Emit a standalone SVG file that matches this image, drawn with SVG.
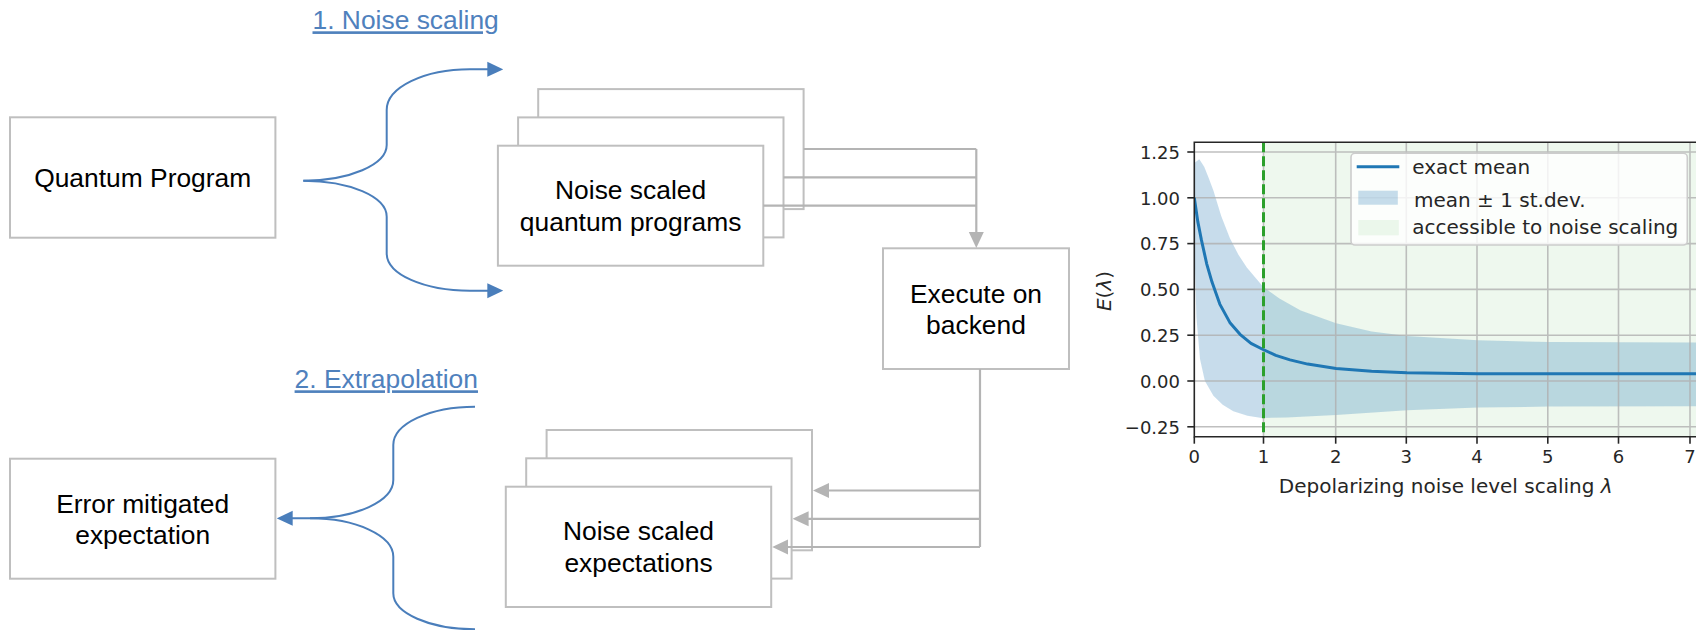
<svg xmlns="http://www.w3.org/2000/svg" width="1696" height="630" viewBox="0 0 1696 630">
<defs>
<marker id="ahBlue" viewBox="0 0 16 16" refX="1" refY="8" markerWidth="16" markerHeight="16" markerUnits="userSpaceOnUse" orient="auto"><path d="M0,0.5 L16,8 L0,15.5 Z" fill="#4a7ebb"/></marker>
<marker id="ahGray" viewBox="0 0 16 16" refX="1" refY="8" markerWidth="16" markerHeight="16" markerUnits="userSpaceOnUse" orient="auto"><path d="M0,0.5 L16,8 L0,15.5 Z" fill="#b4b4b4"/></marker>
<clipPath id="axclip"><rect x="1194.3" y="142.3" width="503" height="294.4"/></clipPath>
</defs>
<style>
.box{fill:#ffffff;stroke:#bfbfbf;stroke-width:2}
.lbl{font-family:"Liberation Sans",Arial,sans-serif;font-size:26.4px;fill:#000000;text-anchor:middle}
.ttl{font-family:"Liberation Sans",Arial,sans-serif;font-size:26.4px;fill:#4f81bd;text-decoration:underline}
.brace{fill:none;stroke:#4a7ebb;stroke-width:2}
.conn{fill:none;stroke:#b4b4b4;stroke-width:2.2}
.grid{stroke:#b0b0b0;stroke-width:1.6;opacity:0.8}
.tick{stroke:#262626;stroke-width:1.6}
.tl{font-family:"DejaVu Sans",sans-serif;font-size:18px;fill:#262626}
.lg{font-family:"DejaVu Sans",sans-serif;font-size:20px;fill:#262626}
</style>

<text class="ttl" x="312.5" y="29.3">1. Noise scaling</text>
<text class="ttl" x="294.6" y="388.3">2. Extrapolation</text>

<g id="quantum-program">
<rect class="box" x="10" y="117.3" width="265.4" height="120.4"/>
<text class="lbl" x="142.7" y="187">Quantum Program</text>
</g>

<g id="noise-scaled-programs">
<rect class="box" x="538.2" y="89.1" width="265.4" height="120"/>
<rect class="box" x="518.1" y="117.4" width="265.4" height="120"/>
<rect class="box" x="497.9" y="145.7" width="265.4" height="120"/>
<text class="lbl" x="630.6" y="199.3">Noise scaled</text>
<text class="lbl" x="630.6" y="231">quantum programs</text>
</g>

<g id="execute-backend">
<rect class="box" x="883" y="248.3" width="186" height="120.7"/>
<text class="lbl" x="976" y="302.7">Execute on</text>
<text class="lbl" x="976" y="334">backend</text>
</g>

<g id="noise-scaled-expectations">
<rect class="box" x="546.6" y="430" width="265.4" height="120.3"/>
<rect class="box" x="526.2" y="458.3" width="265.4" height="120.3"/>
<rect class="box" x="505.8" y="486.7" width="265.4" height="120.3"/>
<text class="lbl" x="638.5" y="540">Noise scaled</text>
<text class="lbl" x="638.5" y="571.7">expectations</text>
</g>

<g id="error-mitigated">
<rect class="box" x="10" y="458.7" width="265.4" height="120"/>
<text class="lbl" x="142.7" y="512.7">Error mitigated</text>
<text class="lbl" x="142.7" y="544.3">expectation</text>
</g>

<g id="connectors">
<path class="brace" d="M303.3,180.7 C349.3,180.7 386.7,164.7 386.7,145 V110 C386.7,87.5 424,69.3 470,69.3 L488.3,69.3" marker-end="url(#ahBlue)"/>
<path class="brace" d="M303.3,180.7 C349.3,180.7 386.7,196.7 386.7,216.7 V253.3 C386.7,274.5 424,290.7 470,290.7 L488.3,290.7" marker-end="url(#ahBlue)"/>
<path class="brace" d="M475,406.7 C429.9,406.7 393.3,423.9 393.3,445 V480 C393.3,501.1 356,518.3 310,518.3"/>
<path class="brace" d="M475,629.3 C429.9,629.3 393.3,613.2 393.3,593.3 V556.7 C393.3,535.5 356,518.3 310,518.3 L291.7,518.3" marker-end="url(#ahBlue)"/>
<path class="conn" d="M803.6,149 H976.3 M783.5,177.3 H976.3 M763.3,205.7 H976.3"/>
<path class="conn" d="M976.3,149 V233" marker-end="url(#ahGray)"/>
<path class="conn" d="M980,369 V547"/>
<path class="conn" d="M980,490.5 H828" marker-end="url(#ahGray)"/>
<path class="conn" d="M980,518.8 H807.6" marker-end="url(#ahGray)"/>
<path class="conn" d="M980,547 H787.2" marker-end="url(#ahGray)"/>
</g>

<g id="plot">
<g clip-path="url(#axclip)">
<rect x="1263.5" y="142.3" width="434" height="294.4" fill="#2ca02c" fill-opacity="0.08"/>
<path d="M1194.3,163.0 L1199.3,159.3 L1204.2,166.7 L1208.5,177.6 L1213.4,190.5 L1221.2,216.1 L1229.8,238.1 L1238.3,254.6 L1246.8,267.4 L1263.1,286.7 L1279.4,298.6 L1300.7,310.5 L1336.1,323.3 L1371.6,331.5 L1407.0,336.1 L1477.9,340.3 L1548.8,342.0 L1704.8,342.5 L1704.8,406.1 L1548.8,406.6 L1477.9,407.6 L1407.0,410.3 L1336.1,414.9 L1286.5,417.6 L1261.7,418.0 L1247.5,415.8 L1233.3,411.2 L1222.7,404.8 L1213.4,395.7 L1204.9,381.0 L1200.0,359.0 L1196.4,316.9 L1194.3,243.6 Z" fill="#1f77b4" fill-opacity="0.25"/>
<g class="grid">
<line x1="1263.5" y1="142.3" x2="1263.5" y2="436.7"/>
<line x1="1335.7" y1="142.3" x2="1335.7" y2="436.7"/>
<line x1="1406.3" y1="142.3" x2="1406.3" y2="436.7"/>
<line x1="1477" y1="142.3" x2="1477" y2="436.7"/>
<line x1="1547.8" y1="142.3" x2="1547.8" y2="436.7"/>
<line x1="1618.5" y1="142.3" x2="1618.5" y2="436.7"/>
<line x1="1690" y1="142.3" x2="1690" y2="436.7"/>
<line x1="1194.3" y1="152" x2="1697" y2="152"/>
<line x1="1194.3" y1="197.8" x2="1697" y2="197.8"/>
<line x1="1194.3" y1="243.6" x2="1697" y2="243.6"/>
<line x1="1194.3" y1="289.4" x2="1697" y2="289.4"/>
<line x1="1194.3" y1="335.2" x2="1697" y2="335.2"/>
<line x1="1194.3" y1="381" x2="1697" y2="381"/>
<line x1="1194.3" y1="426.8" x2="1697" y2="426.8"/>
</g>
<path d="M1194.3,197.8 L1197.8,221.6 L1201.4,239.9 L1206.7,263.8 L1212.0,282.1 L1219.8,304.1 L1229.8,322.4 L1240.0,334.3 L1251.0,343.4 L1263.1,349.5 L1275.8,355.4 L1290.0,359.9 L1307.7,364.1 L1336.1,368.4 L1371.6,371.3 L1407.0,372.8 L1477.9,373.7 L1704.8,373.7" fill="none" stroke="#1f77b4" stroke-width="3" stroke-linejoin="round"/>
<line x1="1263.5" y1="142.3" x2="1263.5" y2="436.7" stroke="#2ca02c" stroke-width="3" stroke-dasharray="10,4"/>
</g>
<path d="M1697,142.3 H1194.3 V436.7 H1697" fill="none" stroke="#262626" stroke-width="1.6"/>
<g class="tick">
<line x1="1187.3" y1="152" x2="1194.3" y2="152"/>
<line x1="1187.3" y1="197.8" x2="1194.3" y2="197.8"/>
<line x1="1187.3" y1="243.6" x2="1194.3" y2="243.6"/>
<line x1="1187.3" y1="289.4" x2="1194.3" y2="289.4"/>
<line x1="1187.3" y1="335.2" x2="1194.3" y2="335.2"/>
<line x1="1187.3" y1="381" x2="1194.3" y2="381"/>
<line x1="1187.3" y1="426.8" x2="1194.3" y2="426.8"/>
<line x1="1194.3" y1="436.7" x2="1194.3" y2="443.7"/>
<line x1="1263.5" y1="436.7" x2="1263.5" y2="443.7"/>
<line x1="1335.7" y1="436.7" x2="1335.7" y2="443.7"/>
<line x1="1406.3" y1="436.7" x2="1406.3" y2="443.7"/>
<line x1="1477" y1="436.7" x2="1477" y2="443.7"/>
<line x1="1547.8" y1="436.7" x2="1547.8" y2="443.7"/>
<line x1="1618.5" y1="436.7" x2="1618.5" y2="443.7"/>
<line x1="1690" y1="436.7" x2="1690" y2="443.7"/>
</g>
<g class="tl" text-anchor="end">
<text x="1180" y="158.7">1.25</text>
<text x="1180" y="204.5">1.00</text>
<text x="1180" y="250.3">0.75</text>
<text x="1180" y="296.1">0.50</text>
<text x="1180" y="341.9">0.25</text>
<text x="1180" y="387.7">0.00</text>
<text x="1180" y="433.5">−0.25</text>
</g>
<g class="tl" text-anchor="middle">
<text x="1194.3" y="463.3">0</text>
<text x="1263.5" y="463.3">1</text>
<text x="1335.7" y="463.3">2</text>
<text x="1406.3" y="463.3">3</text>
<text x="1477" y="463.3">4</text>
<text x="1547.8" y="463.3">5</text>
<text x="1618.5" y="463.3">6</text>
<text x="1690" y="463.3">7</text>
</g>
<text class="lg" x="1445.7" y="492.8" text-anchor="middle">Depolarizing noise level scaling <tspan font-style="italic">λ</tspan></text>
<text class="lg" transform="translate(1111,291) rotate(-90)" text-anchor="middle"><tspan font-style="italic">E</tspan>(<tspan font-style="italic">λ</tspan>)</text>
<g id="legend">
<rect x="1351" y="153.3" width="336.3" height="91.7" rx="4" fill="#ffffff" fill-opacity="0.8" stroke="#cccccc" stroke-width="1.6"/>
<line x1="1356.7" y1="166.7" x2="1399.3" y2="166.7" stroke="#1f77b4" stroke-width="3"/>
<rect x="1358.3" y="190.7" width="39.5" height="14" fill="#1f77b4" fill-opacity="0.25"/>
<rect x="1358.3" y="220" width="40.5" height="15.3" fill="#2ca02c" fill-opacity="0.08"/>
<text class="lg" x="1412.3" y="174">exact mean</text>
<text class="lg" x="1414" y="207.3">mean ± 1 st.dev.</text>
<text class="lg" x="1412.3" y="234">accessible to noise scaling</text>
</g>
</g>
</svg>
